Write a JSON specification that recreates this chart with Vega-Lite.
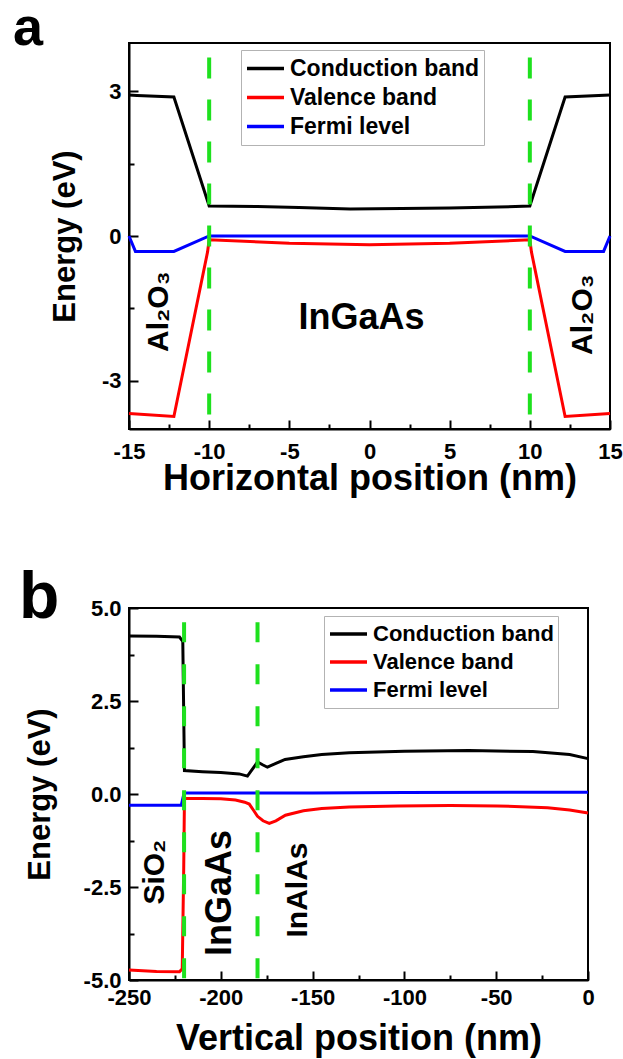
{
  "$schema": "https://vega.github.io/schema/vega-lite/v6.json",
  "background": "white",
  "padding": {"left": 12, "top": 1, "right": 5, "bottom": 5},
  "spacing": 67,
  "resolve": {"scale": {"color": "independent"}, "legend": {"color": "independent"}},
  "datasets": {
    "aLines": [
      {"band": "Conduction band", "x": -15, "y": 2.92},
      {"band": "Conduction band", "x": -14.5, "y": 2.91},
      {"band": "Conduction band", "x": -12.2, "y": 2.88},
      {"band": "Conduction band", "x": -10, "y": 0.62},
      {"band": "Conduction band", "x": -7, "y": 0.61},
      {"band": "Conduction band", "x": -4.4, "y": 0.59},
      {"band": "Conduction band", "x": -1.2, "y": 0.56},
      {"band": "Conduction band", "x": 2, "y": 0.57},
      {"band": "Conduction band", "x": 5, "y": 0.58},
      {"band": "Conduction band", "x": 8, "y": 0.6},
      {"band": "Conduction band", "x": 10, "y": 0.62},
      {"band": "Conduction band", "x": 12.2, "y": 2.88},
      {"band": "Conduction band", "x": 15, "y": 2.92},
      {"band": "Valence band", "x": -15, "y": -3.68},
      {"band": "Valence band", "x": -12.2, "y": -3.74},
      {"band": "Valence band", "x": -10.1, "y": -0.33},
      {"band": "Valence band", "x": -10, "y": -0.08},
      {"band": "Valence band", "x": -5, "y": -0.15},
      {"band": "Valence band", "x": 0, "y": -0.18},
      {"band": "Valence band", "x": 5, "y": -0.15},
      {"band": "Valence band", "x": 10, "y": -0.08},
      {"band": "Valence band", "x": 10.1, "y": -0.33},
      {"band": "Valence band", "x": 12.2, "y": -3.74},
      {"band": "Valence band", "x": 15, "y": -3.68},
      {"band": "Fermi level", "x": -15, "y": 0.0},
      {"band": "Fermi level", "x": -14.6, "y": -0.32},
      {"band": "Fermi level", "x": -12.2, "y": -0.32},
      {"band": "Fermi level", "x": -10, "y": 0.0},
      {"band": "Fermi level", "x": 10, "y": 0.0},
      {"band": "Fermi level", "x": 12.2, "y": -0.32},
      {"band": "Fermi level", "x": 14.6, "y": -0.32},
      {"band": "Fermi level", "x": 15, "y": 0.0}
    ],
    "aRules": [
      {"x": -10, "y": 3.7, "y2": -4},
      {"x": 10, "y": 3.7, "y2": -4}
    ],
    "aText": [
      {"label": "InGaAs", "x": -0.5, "y": -1.7},
      {"label": "Al₂O₃", "x": -13.1, "y": -1.57},
      {"label": "Al₂O₃", "x": 13.3, "y": -1.63}
    ],
    "bLines": [
      {"band": "Conduction band", "x": -250, "y": 4.25},
      {"band": "Conduction band", "x": -235, "y": 4.24},
      {"band": "Conduction band", "x": -222.5, "y": 4.22},
      {"band": "Conduction band", "x": -220.7, "y": 4.1},
      {"band": "Conduction band", "x": -219.8, "y": 0.63},
      {"band": "Conduction band", "x": -210, "y": 0.6},
      {"band": "Conduction band", "x": -200, "y": 0.58},
      {"band": "Conduction band", "x": -190, "y": 0.54},
      {"band": "Conduction band", "x": -185.5, "y": 0.48},
      {"band": "Conduction band", "x": -180, "y": 0.86},
      {"band": "Conduction band", "x": -177, "y": 0.78},
      {"band": "Conduction band", "x": -174.6, "y": 0.72},
      {"band": "Conduction band", "x": -170, "y": 0.82},
      {"band": "Conduction band", "x": -165, "y": 0.93},
      {"band": "Conduction band", "x": -155, "y": 1.0},
      {"band": "Conduction band", "x": -145, "y": 1.06},
      {"band": "Conduction band", "x": -130, "y": 1.11},
      {"band": "Conduction band", "x": -100, "y": 1.15},
      {"band": "Conduction band", "x": -65, "y": 1.17},
      {"band": "Conduction band", "x": -30, "y": 1.14},
      {"band": "Conduction band", "x": -10, "y": 1.06},
      {"band": "Conduction band", "x": 0, "y": 0.95},
      {"band": "Valence band", "x": -250, "y": -4.73},
      {"band": "Valence band", "x": -235, "y": -4.77},
      {"band": "Valence band", "x": -222.5, "y": -4.78},
      {"band": "Valence band", "x": -221.0, "y": -4.7},
      {"band": "Valence band", "x": -220.2, "y": -2.0},
      {"band": "Valence band", "x": -219.8, "y": -0.12},
      {"band": "Valence band", "x": -210, "y": -0.12},
      {"band": "Valence band", "x": -200, "y": -0.13},
      {"band": "Valence band", "x": -192, "y": -0.16},
      {"band": "Valence band", "x": -187, "y": -0.22},
      {"band": "Valence band", "x": -184.5, "y": -0.27},
      {"band": "Valence band", "x": -182, "y": -0.45},
      {"band": "Valence band", "x": -180, "y": -0.6},
      {"band": "Valence band", "x": -177, "y": -0.72},
      {"band": "Valence band", "x": -173.6, "y": -0.79},
      {"band": "Valence band", "x": -170, "y": -0.72},
      {"band": "Valence band", "x": -164.8, "y": -0.57},
      {"band": "Valence band", "x": -155, "y": -0.45},
      {"band": "Valence band", "x": -145, "y": -0.39},
      {"band": "Valence band", "x": -130, "y": -0.35},
      {"band": "Valence band", "x": -103.6, "y": -0.32},
      {"band": "Valence band", "x": -75, "y": -0.31},
      {"band": "Valence band", "x": -49.4, "y": -0.32},
      {"band": "Valence band", "x": -22, "y": -0.37},
      {"band": "Valence band", "x": -10, "y": -0.43},
      {"band": "Valence band", "x": 0, "y": -0.51},
      {"band": "Fermi level", "x": -250, "y": -0.3},
      {"band": "Fermi level", "x": -221.5, "y": -0.3},
      {"band": "Fermi level", "x": -220, "y": 0.03},
      {"band": "Fermi level", "x": -150, "y": 0.03},
      {"band": "Fermi level", "x": -100, "y": 0.04},
      {"band": "Fermi level", "x": 0, "y": 0.05}
    ],
    "bRules": [
      {"x": -220, "y": 4.62, "y2": -5},
      {"x": -180, "y": 4.62, "y2": -5}
    ],
    "bText": [
      {"label": "SiO₂", "x": -236, "y": -2.1},
      {"label": "InGaAs", "x": -200.6, "y": -2.66},
      {"label": "InAlAs", "x": -157.8, "y": -2.58}
    ]
  },
  "vconcat": [
    {
      "width": 481,
      "height": 386,
      "title": {"text": "a", "anchor": "start", "frame": "group", "fontSize": 54, "fontWeight": "bold", "font": "Liberation Sans", "color": "black", "baseline": "alphabetic", "offset": -51, "dx": -116, "dy": 5},
      "layer": [
        {
          "data": {"name": "aLines"},
          "mark": {"type": "line", "strokeWidth": 3},
          "encoding": {
            "x": {"field": "x", "type": "quantitative", "scale": {"domain": [-15, 15], "nice": false, "zero": false},
              "axis": {"title": "Horizontal position (nm)", "values": [-15, -12.5, -10, -7.5, -5, -2.5, 0, 2.5, 5, 7.5, 10, 12.5, 15],
                "labelExpr": "datum.value % 5 === 0 ? datum.label : ''",
                "tickSize": {"condition": {"test": "datum.value % 5 === 0", "value": -9}, "value": -5},
                "labelPadding": 21, "titlePadding": -5, "titleFontSize": 36}},
            "y": {"field": "y", "type": "quantitative", "scale": {"domain": [-4, 4], "nice": false, "zero": false},
              "axis": {"title": "Energy (eV)", "values": [-3, -1.5, 0, 1.5, 3],
                "labelExpr": "datum.value % 3 === 0 ? datum.label : ''",
                "tickSize": {"condition": {"test": "datum.value % 3 === 0", "value": -9}, "value": -5},
                "labelPadding": 17, "titlePadding": 20, "titleFontSize": 31}},
            "color": {"field": "band", "type": "nominal",
              "scale": {"domain": ["Conduction band", "Valence band", "Fermi level"], "range": ["#000000", "#ff0000", "#0000ff"]},
              "legend": {"orient": "none", "legendX": 112, "legendY": 7, "title": null, "symbolType": "stroke", "symbolSize": 1369, "symbolStrokeWidth": 3.5,
                "labelFontSize": 23, "labelFontWeight": "bold", "labelFont": "Liberation Sans", "labelColor": "black", "labelLimit": 400, "strokeColor": "#b3b3b3", "fillColor": "white",
                "padding": 4, "rowPadding": 0, "clipHeight": 29, "labelOffset": 4}}
          }
        },
        {
          "data": {"name": "aRules"},
          "mark": {"type": "rule", "color": "#1ee11e", "strokeWidth": 4, "strokeDash": [21, 21]},
          "encoding": {
            "x": {"field": "x", "type": "quantitative"},
            "y": {"field": "y", "type": "quantitative"},
            "y2": {"field": "y2"}
          }
        },
        {
          "data": {"name": "aText"},
          "transform": [{"filter": "datum.label === 'InGaAs'"}],
          "mark": {"type": "text", "font": "Liberation Sans", "fontWeight": "bold", "fontSize": 36, "align": "center", "baseline": "middle", "color": "black"},
          "encoding": {
            "x": {"field": "x", "type": "quantitative"},
            "y": {"field": "y", "type": "quantitative"},
            "text": {"field": "label"}
          }
        },
        {
          "data": {"name": "aText"},
          "transform": [{"filter": "datum.label !== 'InGaAs'"}],
          "mark": {"type": "text", "font": "Liberation Sans", "fontWeight": "bold", "fontSize": 30, "angle": 270, "align": "center", "baseline": "middle", "color": "black"},
          "encoding": {
            "x": {"field": "x", "type": "quantitative"},
            "y": {"field": "y", "type": "quantitative"},
            "text": {"field": "label"}
          }
        }
      ]
    },
    {
      "width": 459,
      "height": 372,
      "title": {"text": "b", "anchor": "start", "frame": "group", "fontSize": 66, "fontWeight": "bold", "font": "Liberation Sans", "color": "black", "baseline": "alphabetic", "offset": -64, "dx": -110, "dy": 23},
      "layer": [
        {
          "data": {"name": "bLines"},
          "mark": {"type": "line", "strokeWidth": 3},
          "encoding": {
            "x": {"field": "x", "type": "quantitative", "scale": {"domain": [-250, 0], "nice": false, "zero": false},
              "axis": {"title": "Vertical position (nm)", "values": [-250, -225, -200, -175, -150, -125, -100, -75, -50, -25, 0],
                "labelExpr": "datum.value % 50 === 0 ? datum.label : ''",
                "tickSize": {"condition": {"test": "datum.value % 50 === 0", "value": -9}, "value": -5},
                "labelPadding": 16, "titlePadding": 9, "titleFontSize": 36}},
            "y": {"field": "y", "type": "quantitative", "scale": {"domain": [-5, 5], "nice": false, "zero": false},
              "axis": {"title": "Energy (eV)", "values": [-5, -3.75, -2.5, -1.25, 0, 1.25, 2.5, 3.75, 5], "format": ".1f",
                "labelExpr": "datum.value % 2.5 === 0 ? datum.label : ''",
                "tickSize": {"condition": {"test": "datum.value % 2.5 === 0", "value": -9}, "value": -5},
                "labelPadding": 17, "titlePadding": 27, "titleFontSize": 31}},
            "color": {"field": "band", "type": "nominal",
              "scale": {"domain": ["Conduction band", "Valence band", "Fermi level"], "range": ["#000000", "#ff0000", "#0000ff"]},
              "legend": {"orient": "none", "legendX": 195, "legendY": 8, "title": null, "symbolType": "stroke", "symbolSize": 1369, "symbolStrokeWidth": 3.5,
                "labelFontSize": 22, "labelFontWeight": "bold", "labelFont": "Liberation Sans", "labelColor": "black", "labelLimit": 400, "strokeColor": "#b3b3b3", "fillColor": "white",
                "padding": 4, "rowPadding": 0, "clipHeight": 28, "labelOffset": 4}}
          }
        },
        {
          "data": {"name": "bRules"},
          "mark": {"type": "rule", "color": "#1ee11e", "strokeWidth": 4, "strokeDash": [20, 22]},
          "encoding": {
            "x": {"field": "x", "type": "quantitative"},
            "y": {"field": "y", "type": "quantitative"},
            "y2": {"field": "y2"}
          }
        },
        {
          "data": {"name": "bText"},
          "transform": [{"filter": "datum.label === 'InGaAs'"}],
          "mark": {"type": "text", "font": "Liberation Sans", "fontWeight": "bold", "fontSize": 36, "angle": 270, "align": "center", "baseline": "middle", "color": "black"},
          "encoding": {
            "x": {"field": "x", "type": "quantitative"},
            "y": {"field": "y", "type": "quantitative"},
            "text": {"field": "label"}
          }
        },
        {
          "data": {"name": "bText"},
          "transform": [{"filter": "datum.label !== 'InGaAs'"}],
          "mark": {"type": "text", "font": "Liberation Sans", "fontWeight": "bold", "fontSize": 30, "angle": 270, "align": "center", "baseline": "middle", "color": "black"},
          "encoding": {
            "x": {"field": "x", "type": "quantitative"},
            "y": {"field": "y", "type": "quantitative"},
            "text": {"field": "label"}
          }
        }
      ]
    }
  ],
  "config": {
    "font": "Liberation Sans",
    "locale": {"number": {"decimal": ".", "thousands": ",", "grouping": [3], "currency": ["$", ""], "minus": "-"}},
    "view": {"stroke": "black", "strokeWidth": 2},
    "axis": {
      "grid": false, "zindex": 2,
      "domainColor": "black", "domainWidth": 2,
      "ticks": true, "tickColor": "black", "tickWidth": 2, "tickOpacity": 1,
      "labelFont": "Liberation Sans", "labelFontSize": 22, "labelFontWeight": "bold", "labelColor": "black",
      "titleFont": "Liberation Sans", "titleFontWeight": "bold", "titleColor": "black",
      "labelOverlap": false, "labelFlush": false
    }
  }
}
